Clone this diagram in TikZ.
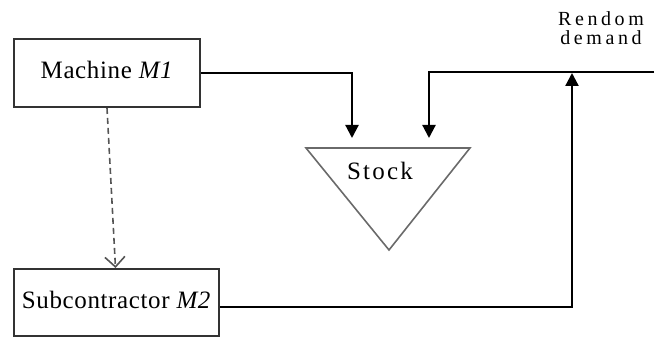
\documentclass[tikz,border=0pt]{standalone}
\usepackage{fontspec}
\setmainfont{Liberation Serif}
\usetikzlibrary{arrows.meta}
\definecolor{boxgray}{HTML}{333333}
\definecolor{trigray}{HTML}{6A6A6A}
\definecolor{dashgray}{HTML}{555555}
\begin{document}
\begin{tikzpicture}[x=0.5pt,y=-0.5pt,
  box/.style={draw=boxgray, line width=1pt, inner sep=0pt, text depth=3pt,
    font=\fontsize{12.5}{14}\selectfont\addfontfeatures{LetterSpace=2.5}},
  flow/.style={line width=1.1pt, black, -{Triangle[length=6.5pt,width=6.5pt]}},
  dashflow/.style={dashgray, line width=0.8pt, dash pattern=on 3pt off 2pt,
    -{Straight Barb[length=5pt,width=10pt]}},
  tri/.style={draw=trigray, line width=0.8pt},
  lbl/.style={inner sep=0pt, font=\fontsize{12.5}{14}\selectfont\addfontfeatures{LetterSpace=9}},
  small/.style={inner sep=0pt, align=center, font=\fontsize{10}{9.6}\selectfont\addfontfeatures{LetterSpace=18}}
]
\useasboundingbox (0,0) rectangle (664,340);

\node[box, minimum width=93pt, minimum height=34pt] (m1) at (107,73) {Machine \textit{M1}};
\node[box, minimum width=102.5pt, minimum height=33.5pt] (m2) at (116.5,302.5) {Subcontractor \textit{M2}};

\coordinate (tl) at (306,148);
\coordinate (tr) at (470,148);
\coordinate (tb) at (389,250);
\draw[tri] (tl) -- (tr) -- (tb) -- cycle;
\node[lbl] (stock) at (380,171) {Stock};

\coordinate (c1) at (352,138);
\coordinate (c2) at (429,138);
\coordinate (c3) at (572,73);
\coordinate (dem) at (654,72);

\node[small, anchor=north] (rd) at (601,11) {Rendom\\demand};

\draw[flow] (m1.east) -| (c1);
\draw[flow] (dem) -| (c2);
\draw[flow] ([yshift=-2.25pt]m2.east) -| (c3);
\draw[dashflow] (m1.south) -- ([xshift=-0.5pt]m2.north);
\end{tikzpicture}
\end{document}
